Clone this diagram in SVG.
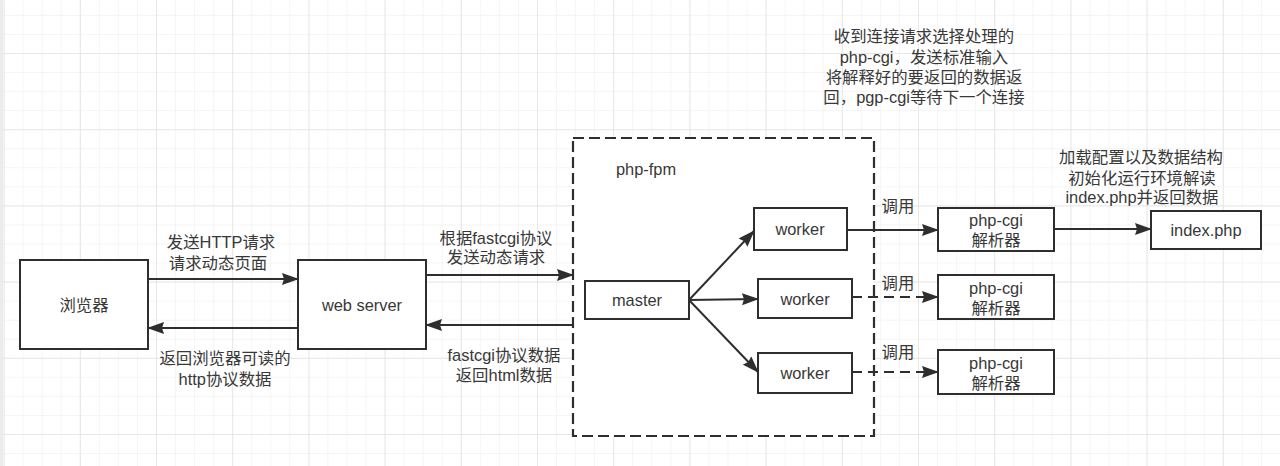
<svg xmlns="http://www.w3.org/2000/svg" width="1280" height="466" viewBox="0 0 1280 466">
<defs>
<pattern id="minor" x="3.6" y="53" width="19.05" height="19.05" patternUnits="userSpaceOnUse">
<path d="M0 0H19.05M0 0V19.05" fill="none" stroke="#ececec" stroke-width="1"/>
</pattern>
<pattern id="major" x="3.6" y="53" width="76.2" height="76.2" patternUnits="userSpaceOnUse">
<path d="M0 0H76.2M0 0V76.2" fill="none" stroke="#e2e2e2" stroke-width="1.5"/>
</pattern>
<marker id="arr" markerUnits="userSpaceOnUse" markerWidth="17" markerHeight="12" viewBox="0 0 17 12" refX="16" refY="6" orient="auto">
<path d="M0 0L17 6L0 12L2 6z" fill="#2e2e2e"/>
</marker>
<style>
.box{fill:#fff;stroke:#2e2e2e;stroke-width:2}
.t{font-family:"Liberation Sans","Noto Sans CJK SC",sans-serif;font-size:16.4px;fill:#383838;text-anchor:middle;dominant-baseline:central}
.c{fill:none;stroke:#2e2e2e;stroke-width:2;marker-end:url(#arr)}
.d{stroke-dasharray:10 6}
</style>
</defs>
<rect width="1280" height="466" fill="#fff"/>
<rect width="1280" height="466" fill="url(#minor)"/>
<rect width="1280" height="466" fill="url(#major)"/>
<rect x="0" y="0" width="3" height="466" fill="#ececec"/>

<g id="php-fpm">
<rect x="573" y="138" width="301" height="298" fill="#fff" stroke="#2e2e2e" stroke-width="2.2" stroke-dasharray="11 5"/>
<text class="t" x="646" y="169">php-fpm</text>
</g>

<g id="browser">
<rect class="box" x="20" y="260" width="128" height="89"/>
<text class="t" x="84" y="305">浏览器</text>
</g>
<g id="webserver">
<rect class="box" x="298" y="260" width="128" height="89"/>
<text class="t" x="362" y="305">web server</text>
</g>
<g id="master">
<rect class="box" x="585" y="281" width="104" height="38"/>
<text class="t" x="637" y="300">master</text>
</g>
<g id="worker1">
<rect class="box" x="754" y="208" width="93" height="42"/>
<text class="t" x="800" y="229">worker</text>
</g>
<g id="worker2">
<rect class="box" x="758" y="279" width="94" height="39"/>
<text class="t" x="805" y="299">worker</text>
</g>
<g id="worker3">
<rect class="box" x="758" y="353" width="94" height="40"/>
<text class="t" x="805" y="373">worker</text>
</g>
<g id="phpcgi1">
<rect class="box" x="938" y="208" width="116" height="43"/>
<text class="t" x="996" y="220">php-cgi</text>
<text class="t" x="996" y="240">解析器</text>
</g>
<g id="phpcgi2">
<rect class="box" x="938" y="275" width="116" height="44"/>
<text class="t" x="996" y="288">php-cgi</text>
<text class="t" x="996" y="308">解析器</text>
</g>
<g id="phpcgi3">
<rect class="box" x="938" y="350" width="116" height="44"/>
<text class="t" x="996" y="363">php-cgi</text>
<text class="t" x="996" y="383">解析器</text>
</g>
<g id="indexphp">
<rect class="box" x="1151" y="211" width="110" height="38"/>
<text class="t" x="1206" y="230">index.php</text>
</g>

<g id="connectors">
<path class="c" d="M148 279H298"/>
<path class="c" d="M298 328H148"/>
<path class="c" d="M426 275H573"/>
<path class="c" d="M573 325H426"/>
<path class="c" d="M689 300L754 231"/>
<path class="c" d="M689 300L758 299"/>
<path class="c" d="M689 300L758 372"/>
<path class="c" d="M847 230H938"/>
<path class="c d" d="M852 297H938"/>
<path class="c d" d="M852 372H938"/>
<path class="c" d="M1054 229H1151"/>
</g>

<g id="labels">
<text class="t" x="221" y="242">发送HTTP请求</text>
<text class="t" x="218" y="263">请求动态页面</text>
<text class="t" x="225" y="358">返回浏览器可读的</text>
<text class="t" x="225" y="379">http协议数据</text>
<text class="t" x="496" y="238">根据fastcgi协议</text>
<text class="t" x="496" y="257">发送动态请求</text>
<text class="t" x="504" y="355">fastcgi协议数据</text>
<text class="t" x="504" y="375">返回html数据</text>
<text class="t" x="898" y="206">调用</text>
<text class="t" x="898" y="283">调用</text>
<text class="t" x="898" y="352">调用</text>
<text class="t" x="924" y="36">收到连接请求选择处理的</text>
<text class="t" x="924" y="57">php-cgi，发送标准输入</text>
<text class="t" x="924" y="77">将解释好的要返回的数据返</text>
<text class="t" x="924" y="97">回，pgp-cgi等待下一个连接</text>
<text class="t" x="1141" y="157">加载配置以及数据结构</text>
<text class="t" x="1142" y="178">初始化运行环境解读</text>
<text class="t" x="1142" y="197">index.php并返回数据</text>
</g>
</svg>
